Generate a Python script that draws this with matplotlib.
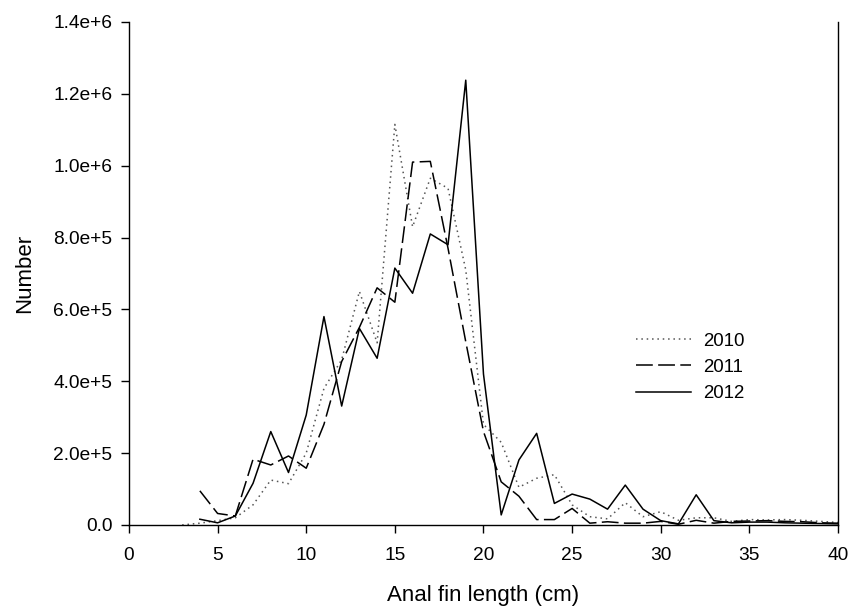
import numpy as np
import matplotlib.pyplot as plt
from matplotlib.ticker import FuncFormatter

plt.rcParams['font.family'] = ['Liberation Sans', 'DejaVu Sans']

# anal fin length (cm)
len_2010 = list(range(3, 41))
len_2011 = list(range(4, 41))
len_2012 = list(range(4, 41))

num_2010 = [0, 5e3, 1.2e4, 2e4, 5.6e4, 1.25e5, 1.15e5, 2e5, 3.8e5, 4.6e5,
            6.5e5, 5.07e5, 1.115e6, 8.3e5, 9.65e5, 9.37e5, 7.1e5, 2.8e5, 2.3e5, 1.05e5,
            1.3e5, 1.4e5, 5.6e4, 2.3e4, 1.7e4, 6.2e4, 2.3e4, 3.7e4, 1.3e4, 2e4,
            2e4, 1e4, 1.5e4, 1.4e4, 1.5e4, 1.3e4, 1e4, 7e3]
num_2011 = [9.5e4, 3.2e4, 2.5e4, 1.83e5, 1.67e5, 1.92e5, 1.58e5, 2.8e5, 4.55e5, 5.5e5,
            6.6e5, 6.2e5, 1.01e6, 1.012e6, 7.7e5, 5.1e5, 2.6e5, 1.2e5, 8e4, 1.5e4,
            1.5e4, 4.6e4, 5e3, 9e3, 5e3, 5e3, 1e4, 2e3, 1.3e4, 5e3,
            1e4, 1.1e4, 1.2e4, 1e4, 9e3, 6e3, 5e3]
num_2012 = [1.6e4, 6e3, 2.5e4, 1.16e5, 2.6e5, 1.46e5, 3.06e5, 5.8e5, 3.31e5, 5.47e5,
            4.64e5, 7.15e5, 6.45e5, 8.1e5, 7.8e5, 1.238e6, 4.2e5, 2.8e4, 1.81e5, 2.55e5,
            6e4, 8.6e4, 7.2e4, 4.4e4, 1.11e5, 4.4e4, 1.2e4, 3e3, 8.4e4, 1.2e4,
            6e3, 8e3, 8e3, 6e3, 5e3, 4e3, 3e3]

fig = plt.figure(figsize=(8.53, 6.14), dpi=100)
ax = fig.add_axes([0.1512, 0.145, 0.8312, 0.8192])

ax.plot(len_2010, num_2010, color='#555555', lw=1.1, linestyle=(0, (1, 2.5)), label='2010')
ax.plot(len_2011, num_2011, color='black', lw=1.1, linestyle=(0, (11, 3.5)), label='2011')
ax.plot(len_2012, num_2012, color='black', lw=1.1, linestyle='-', label='2012')

ax.set_xlim(0, 40)
ax.set_ylim(0, 1.4e6)
ax.set_xticks(np.arange(0, 41, 5))
ax.set_yticks(np.arange(0, 1.41e6, 2e5))

def sci_fmt(v, pos):
    if v == 0:
        return "0.0"
    e = int(np.floor(np.log10(v) + 1e-9))
    return "%.1fe+%d" % (v / 10 ** e, e)

ax.yaxis.set_major_formatter(FuncFormatter(sci_fmt))
ax.tick_params(direction='out', length=6, width=1, labelsize=13.8)
ax.tick_params(axis='x', pad=10)
ax.tick_params(axis='y', pad=6)

ax.spines['top'].set_visible(False)
for s in ['left', 'bottom', 'right']:
    ax.spines[s].set_linewidth(1)

ax.set_xlabel("Anal fin length (cm)", fontsize=16, labelpad=15)
ax.set_ylabel("Number", fontsize=16, labelpad=13)

ax.legend(loc='upper left', bbox_to_anchor=(0.691, 0.416), frameon=False,
          fontsize=13.4, handlelength=3.0, handletextpad=0.65, labelspacing=0.5)

fig.savefig("out.png", dpi=100)
